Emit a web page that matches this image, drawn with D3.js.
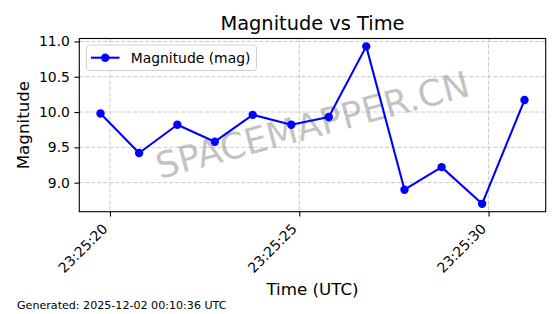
<!DOCTYPE html>
<html><head><meta charset="utf-8">
<script src="https://cdn.jsdelivr.net/npm/d3@7"></script>
<style>
html,body{margin:0;padding:0;background:#fff;}
svg{display:block;font-family:"DejaVu Sans",sans-serif;}
</style></head>
<body><svg id="c" width="560" height="314"></svg>
<script>
// Data
const times = ["23:25:19.75","23:25:20.77","23:25:21.78","23:25:22.77","23:25:23.77","23:25:24.79",
               "23:25:25.78","23:25:26.77","23:25:27.78","23:25:28.76","23:25:29.83","23:25:30.95"];
const magnitudes = [9.98, 9.42, 9.82, 9.58, 9.96, 9.82, 9.93, 10.93, 8.90, 9.22, 8.70, 10.17];
const xTickLabels = ["23:25:20","23:25:25","23:25:30"];
const yTickValues = [9.0, 9.5, 10.0, 10.5, 11.0];
const titleText = "Magnitude vs Time";
const xLabel = "Time (UTC)";
const yLabel = "Magnitude";
const legendLabel = "Magnitude (mag)";
const footerText = "Generated: 2025-12-02 00:10:36 UTC";
const watermark = "SPACEMAPPER.CN";

const day = "2025-12-01T";
const parse = s => new Date(day + s + "Z");
const data = times.map((t,i)=>({t:parse(t), v:magnitudes[i]}));

const svg = d3.select("#c");
const L = 79.3, R = 545.7, T = 38.5, B = 211.7;

// matplotlib-like 5% margins
const tExt = d3.extent(data, d=>+d.t), vExt = d3.extent(data, d=>d.v);
const tPad = (tExt[1]-tExt[0])*0.05, vPad = (vExt[1]-vExt[0])*0.05;
const x = d3.scaleUtc().domain([new Date(tExt[0]-tPad), new Date(tExt[1]+tPad)]).range([L,R]);
const y = d3.scaleLinear().domain([vExt[0]-vPad, vExt[1]+vPad]).range([B,T]);
const xTicks = xTickLabels.map(parse);
const fmt = d3.utcFormat("%H:%M:%S");

// grid
const g = svg.append("g");
g.selectAll("line.gx").data(xTicks).join("line")
  .attr("x1",d=>x(d)).attr("x2",d=>x(d)).attr("y1",T).attr("y2",B)
  .attr("stroke","#c8c8c8").attr("stroke-width",1).attr("stroke-dasharray","4,2");
g.selectAll("line.gy").data(yTickValues).join("line")
  .attr("y1",d=>y(d)).attr("y2",d=>y(d)).attr("x1",L).attr("x2",R)
  .attr("stroke","#c8c8c8").attr("stroke-width",1).attr("stroke-dasharray","4,2");

// watermark
svg.append("text").text(watermark)
  .attr("transform",`translate(${(L+R)/2},${(T+B)/2}) rotate(-15)`)
  .attr("text-anchor","middle").attr("dominant-baseline","central")
  .attr("font-size",36).attr("fill","#808080").attr("fill-opacity",0.48);

// line + markers
const line = d3.line().x(d=>x(d.t)).y(d=>y(d.v));
svg.append("path").datum(data).attr("d",line).attr("fill","none")
  .attr("stroke","#0000ff").attr("stroke-width",2.1).attr("stroke-linejoin","round");
svg.selectAll("circle.pt").data(data).join("circle")
  .attr("cx",d=>x(d.t)).attr("cy",d=>y(d.v)).attr("r",4.2).attr("fill","#0000ff");

// spines
svg.append("rect").attr("x",L).attr("y",T).attr("width",R-L).attr("height",B-T)
  .attr("fill","none").attr("stroke","#000").attr("stroke-width",1.1);

// y axis
const yAxis = svg.append("g").attr("transform",`translate(${L},0)`)
  .call(d3.axisLeft(y).tickValues(yTickValues).tickFormat(d3.format(".1f")).tickSize(4.9).tickPadding(4.5));
yAxis.select(".domain").remove();
yAxis.selectAll("text").attr("font-size",13.9).attr("fill","#000").attr("font-family","DejaVu Sans");
yAxis.selectAll("line").attr("stroke","#000").attr("stroke-width",1.1);

// x axis
const xAxis = svg.append("g").attr("transform",`translate(0,${B})`)
  .call(d3.axisBottom(x).tickValues(xTicks).tickFormat(fmt).tickSize(4.9));
xAxis.select(".domain").remove();
xAxis.selectAll("line").attr("stroke","#000").attr("stroke-width",1.1);
xAxis.selectAll("text").attr("font-size",13.9).attr("fill","#000").attr("font-family","DejaVu Sans")
  .attr("text-anchor","end").attr("dy",null).attr("y",null)
  .attr("transform","translate(-2,18) rotate(-45)");

// labels
svg.append("text").text(titleText).attr("x",(L+R)/2).attr("y",30)
  .attr("text-anchor","middle").attr("font-size",19.4).attr("fill","#000");
svg.append("text").text(xLabel).attr("x",(L+R)/2).attr("y",295)
  .attr("text-anchor","middle").attr("font-size",16.7).attr("fill","#000");
svg.append("text").text(yLabel).attr("transform",`translate(29,${(T+B)/2}) rotate(-90)`)
  .attr("text-anchor","middle").attr("font-size",16.7).attr("fill","#000");
svg.append("text").text(footerText).attr("x",17).attr("y",309)
  .attr("font-size",11.1).attr("fill","#000");

// legend
const lg = svg.append("g");
lg.append("rect").attr("x",86.5).attr("y",45).attr("width",170).attr("height",25.5).attr("rx",3)
  .attr("fill","#fff").attr("fill-opacity",0.8).attr("stroke","#d0d0d0").attr("stroke-width",1);
lg.append("line").attr("x1",91).attr("x2",119.5).attr("y1",57.7).attr("y2",57.7)
  .attr("stroke","#0000ff").attr("stroke-width",2.1);
lg.append("circle").attr("cx",105.2).attr("cy",57.7).attr("r",4.2).attr("fill","#0000ff");
lg.append("text").text(legendLabel).attr("x",130.7).attr("y",57.7).attr("dominant-baseline","central")
  .attr("font-size",13.9).attr("fill","#000");
</script></body></html>
